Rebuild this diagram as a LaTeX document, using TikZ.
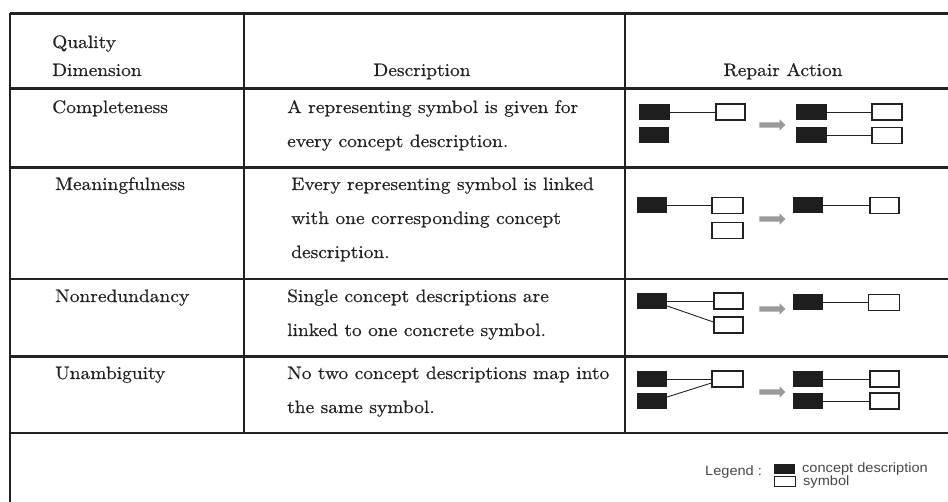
\documentclass[tikz,border=0pt]{standalone}
\usepackage{fontspec}
\setmainfont{lmroman10-regular.otf}[FakeStretch=1.08, FakeBold=0.6]
\newfontfamily\legendfont{Liberation Sans}[FakeStretch=1.08]
\usetikzlibrary{shapes.arrows,calc}

\definecolor{ink}{HTML}{222222}
\definecolor{fillblack}{HTML}{1E1E1E}
\definecolor{arrowgray}{HTML}{9A9A9A}
\definecolor{legendgray}{HTML}{474747}

\tikzset{
  ruleA/.style={draw=ink, line width=3pt},
  ruleB/.style={draw=ink, line width=1.8pt},
  colrule/.style={draw=ink, line width=2.4pt},
  cell/.style={font=\fontsize{18}{34}\selectfont, text=ink, inner sep=0pt, anchor=base west},
  head/.style={font=\fontsize{18}{34}\selectfont, text=ink, inner sep=0pt, anchor=base},
  cbox/.style={fill=fillblack, draw=none, minimum width=31pt, minimum height=16pt, inner sep=0pt},
  sbox/.style={draw=ink, line width=1.2pt, fill=white, minimum width=29pt, minimum height=16pt, inner sep=0pt},
  link/.style={draw=ink, line width=0.9pt},
  fixarrow/.style={single arrow, fill=arrowgray, draw=none, minimum height=26pt,
    minimum width=11pt, single arrow head extend=3pt, inner sep=2.5pt,
    single arrow head indent=0pt},
  legtext/.style={font=\legendfont\fontsize{13.5}{14}\selectfont, text=legendgray, inner sep=0pt},
}

\begin{document}
\begin{tikzpicture}[x=1pt,y=-1pt]
\useasboundingbox (0,0) rectangle (948,502);

% table rules
\draw[ruleA] (10,14) -- (948,14);
\draw[ruleA] (10,89) -- (948,89);
\draw[ruleA] (10,168) -- (948,168);
\draw[ruleB] (10,279) -- (948,279);
\draw[ruleA] (10,357) -- (948,357);
\draw[ruleB] (10,433) -- (948,433);
\draw[draw=ink, line width=2pt] (10,13) -- (10,502);
\draw[colrule] (244,13) -- (244,433);
\draw[colrule] (625,13) -- (625,433);

% header
\node[cell] (hq1) at (52,48) {Quality};
\node[cell] (hq2) at (52,76) {Dimension};
\node[head] (hd) at (422,76) {Description};
\node[head] (hr) at (783,76) {Repair Action};

% first column
\node[cell] (q1) at (52,113) {Completeness};
\node[cell] (q2) at (55,190) {Meaningfulness};
\node[cell] (q3) at (55,302) {Nonredundancy};
\node[cell] (q4) at (55,379) {Unambiguity};

% descriptions
\node[cell] (d1a) at (287,113) {A representing symbol is given for};
\node[cell] (d1b) at (287,147) {every concept description.};
\node[cell] (d2a) at (291,190) {Every representing symbol is linked};
\node[cell] (d2b) at (291,224) {with one corresponding concept};
\node[cell] (d2c) at (291,258) {description.};
\node[cell] (d3a) at (287,302) {Single concept descriptions are};
\node[cell] (d3b) at (287,336) {linked to one concrete symbol.};
\node[cell] (d4a) at (287,379) {No two concept descriptions map into};
\node[cell] (d4b) at (287,413) {the same symbol.};

% repair: completeness
\node[cbox] (c1a) at (654.5,112) {};
\node[sbox] (s1a) at (730.5,112) {};
\node[cbox, minimum width=30pt] (c1b) at (654,135.5) {};
\node[fixarrow] (a1) at (771,125) {};
\node[cbox] (c1c) at (811,112) {};
\node[sbox, minimum width=30pt] (s1c) at (887,112) {};
\node[cbox] (c1d) at (811,135.5) {};
\node[sbox, minimum width=30pt] (s1d) at (887,135.5) {};
\draw[link] (c1a) -- (s1a);
\draw[link] (c1c) -- (s1c);
\draw[link] (c1d) -- (s1d);

% repair: meaningfulness
\node[cbox, minimum width=30pt] (c2a) at (652,205.5) {};
\node[sbox, minimum width=31pt] (s2a) at (727.5,205.5) {};
\node[sbox, minimum width=31pt] (s2b) at (727.5,230.5) {};
\node[fixarrow] (a2) at (771,219) {};
\node[cbox, minimum width=30pt] (c2c) at (808,205.5) {};
\node[sbox] (s2c) at (884.5,205.5) {};
\draw[link] (c2a) -- (s2a);
\draw[link] (c2c) -- (s2c);

% repair: nonredundancy
\node[cbox, minimum width=30pt] (c3a) at (652,301) {};
\node[sbox] (s3a) at (728.5,301) {};
\node[sbox] (s3b) at (728.5,325) {};
\node[fixarrow] (a3) at (771,309) {};
\node[cbox, minimum width=30pt] (c3c) at (808,302.5) {};
\node[sbox, minimum width=31pt] (s3c) at (884,302.5) {};
\draw[link] (c3a) -- (s3a);
\draw[link] ([yshift=-5pt]c3a.east) -- ([yshift=3pt]s3b.west);
\draw[link] (c3c) -- (s3c);

% repair: unambiguity
\node[cbox, minimum width=30pt] (c4a) at (652,379) {};
\node[sbox, minimum width=31pt] (s4a) at (727.5,379) {};
\node[cbox, minimum width=30pt] (c4b) at (652,401) {};
\node[fixarrow] (a4) at (771,392) {};
\node[cbox, minimum width=30pt] (c4c) at (808,379) {};
\node[sbox] (s4c) at (884.5,379) {};
\node[cbox, minimum width=30pt] (c4d) at (808,401) {};
\node[sbox] (s4d) at (884.5,401) {};
\draw[link] (c4a) -- (s4a);
\draw[link] ([yshift=4pt]c4b.east) -- ([yshift=-4pt]s4a.west);
\draw[link] (c4c) -- (s4c);
\draw[link] (c4d) -- (s4d);

% legend
\node[legtext, anchor=west] (lg) at (705,472) {Legend :};
\node[cbox, minimum width=21pt, minimum height=10pt] (lc) at (784.5,469) {};
\node[sbox, minimum width=21pt, minimum height=10.5pt, line width=1pt] (ls) at (784.5,481.5) {};
\node[legtext, anchor=west] (lct) at (802,469) {concept description};
\node[legtext, anchor=west] (lst) at (803,482) {symbol};
\end{tikzpicture}
\end{document}
